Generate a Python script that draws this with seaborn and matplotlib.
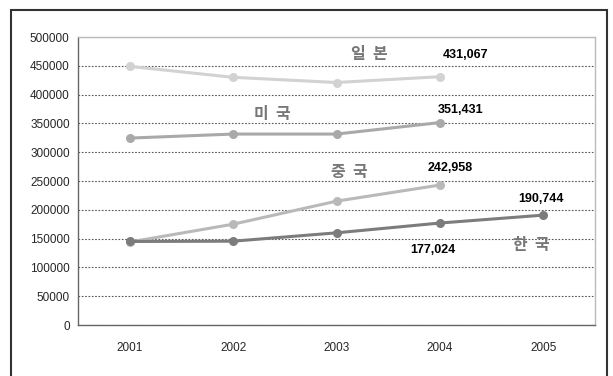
import pandas as pd
import matplotlib.pyplot as plt
import seaborn as sns
from matplotlib.patches import Rectangle

# data
years = ["2001", "2002", "2003", "2004", "2005"]
japan = [449000, 430000, 421000, 431067]
usa = [324500, 331500, 331500, 351431]
china = [144000, 175000, 215000, 242958]
korea = [145000, 145500, 160000, 177024, 190744]

countries = ["일본", "미국", "중국", "한국"]
colors = ["#d2d2d2", "#a9a9a9", "#b9b9b9", "#7c7c7c"]

rows = []
for name, vals in zip(countries, [japan, usa, china, korea]):
    for y, v in zip(years, vals):
        rows.append({"year": y, "value": v, "country": name})
df = pd.DataFrame(rows)

sns.set_style("white")
plt.rcParams["font.family"] = ["Liberation Sans", "Noto Sans CJK KR", "DejaVu Sans"]

fig = plt.figure(figsize=(6.13, 3.76), dpi=100)
ax = fig.add_axes([78 / 613, 51 / 376, 517 / 613, 288 / 376])

sns.lineplot(data=df, x="year", y="value", hue="country", hue_order=countries,
             palette=colors, marker="o", markersize=6.5, markeredgewidth=0,
             linewidth=2.2, sort=False, legend=False, ax=ax)

ax.set_xlim(-0.5, 4.5)
ax.set_ylim(0, 500000)
ax.set_yticks(range(0, 500001, 50000))
ax.set_xlabel("")
ax.set_ylabel("")
ax.yaxis.grid(True, linestyle=(0, (1.5, 1.5)), color="#555555", linewidth=0.8)
ax.set_axisbelow(True)

ax.set_xticks(range(5))
ax.set_xticklabels(years)
ax.set_xticks([0.5, 1.5, 2.5, 3.5], minor=True)
ax.tick_params(axis="x", which="major", length=0, pad=12, labelsize=8.5)
ax.tick_params(axis="x", which="minor", direction="in", length=4, color="#555555")
ax.tick_params(axis="y", length=0, pad=6, labelsize=8.5)

for side in ["top", "right"]:
    ax.spines[side].set_color("#bbbbbb")
for side in ["left", "bottom"]:
    ax.spines[side].set_color("#666666")
for s in ax.spines.values():
    s.set_linewidth(1)

# country names and value annotations
kfont = dict(family=["Noto Sans CJK KR"], fontsize=11.5, color="#777777", fontweight="bold")
nfont = dict(fontsize=9, color="black", fontweight="bold")
ax.text(2.32, 470000, "일  본", ha="center", va="center", **kfont)
ax.text(3.25, 468000, "431,067", ha="center", va="center", **nfont)
ax.text(1.38, 366000, "미  국", ha="center", va="center", **kfont)
ax.text(3.2, 374000, "351,431", ha="center", va="center", **nfont)
ax.text(2.12, 265000, "중  국", ha="center", va="center", **kfont)
ax.text(3.1, 273000, "242,958", ha="center", va="center", **nfont)
ax.text(3.98, 218000, "190,744", ha="center", va="center", **nfont)
ax.text(2.93, 131000, "177,024", ha="center", va="center", **nfont)
ax.text(3.88, 139000, "한  국", ha="center", va="center", **kfont)

# outer frame
fig.patches.append(Rectangle((11 / 613, -0.05), 596 / 613, 1.05 - 10 / 376,
                             transform=fig.transFigure, fill=False,
                             edgecolor="#333333", linewidth=1.5))

fig.savefig("out.png", dpi=100)
